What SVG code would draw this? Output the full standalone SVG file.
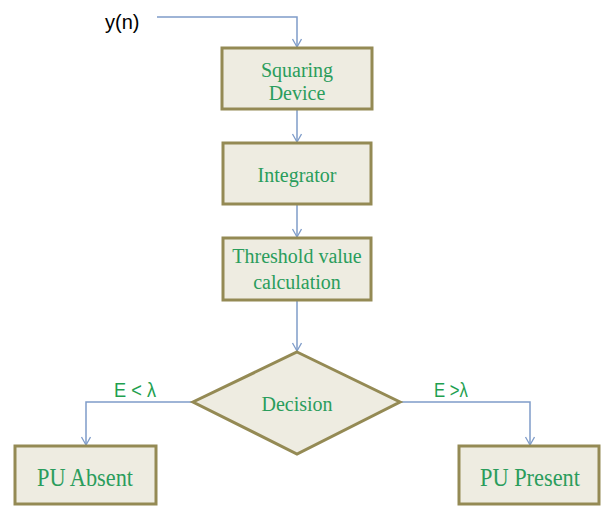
<svg xmlns="http://www.w3.org/2000/svg" width="601" height="507" viewBox="0 0 601 507">
<defs>
<marker id="arr" markerWidth="12" markerHeight="12" refX="9" refY="5" orient="auto" markerUnits="userSpaceOnUse">
<path d="M1,0.5 L9,5 L1,9.5" fill="none" stroke="#7f9cc9" stroke-width="1.3"/>
</marker>
<style>
.box{fill:#eeece1;stroke:#948a54;stroke-width:3}
.t{font-family:"Liberation Serif","Times New Roman",serif;font-size:20px;fill:#2a9d5c;text-anchor:middle}
.big{font-size:25px;text-anchor:start}
.c{fill:none;stroke:#7f9cc9;stroke-width:1.5;marker-end:url(#arr)}
.lbl{font-family:"Liberation Sans",Arial,sans-serif;font-size:20px;fill:#1f9f50}
</style>
</defs>
<rect width="601" height="507" fill="#ffffff"/>
<text x="105" y="29" font-family="Liberation Sans, Arial, sans-serif" font-size="20" fill="#000000">y(n)</text>
<g id="connectors">
<path class="c" d="M157,17 H297 V47"/>
<path class="c" d="M297,110 V142"/>
<path class="c" d="M297,205 V237"/>
<path class="c" d="M297,301 V351"/>
<path class="c" d="M193,402 H86 V445"/>
<path class="c" d="M400,402 H530 V445"/>
</g>
<text class="lbl" x="114" y="397" textLength="42" lengthAdjust="spacingAndGlyphs">E &lt; λ</text>
<text class="lbl" x="434" y="397" textLength="34" lengthAdjust="spacingAndGlyphs">E &gt;λ</text>
<g id="squaring">
<rect class="box" x="222" y="48" width="150" height="61"/>
<text class="t" x="297" y="77">Squaring</text>
<text class="t" x="297" y="100">Device</text>
</g>
<g id="integrator">
<rect class="box" x="223" y="143" width="148" height="61"/>
<text class="t" x="297" y="182">Integrator</text>
</g>
<g id="threshold">
<rect class="box" x="223" y="238" width="148" height="62"/>
<text class="t" x="297" y="263">Threshold value</text>
<text class="t" x="297" y="289">calculation</text>
</g>
<g id="decision">
<polygon class="box" points="297,352 400,402 297,454 193,402"/>
<text class="t" x="297" y="411">Decision</text>
</g>
<g id="absent">
<rect class="box" x="15" y="446" width="141" height="58"/>
<text class="t big" x="37" y="486" textLength="96" lengthAdjust="spacingAndGlyphs">PU Absent</text>
</g>
<g id="present">
<rect class="box" x="459" y="446" width="140" height="58"/>
<text class="t big" x="480" y="486" textLength="100" lengthAdjust="spacingAndGlyphs">PU Present</text>
</g>
</svg>
